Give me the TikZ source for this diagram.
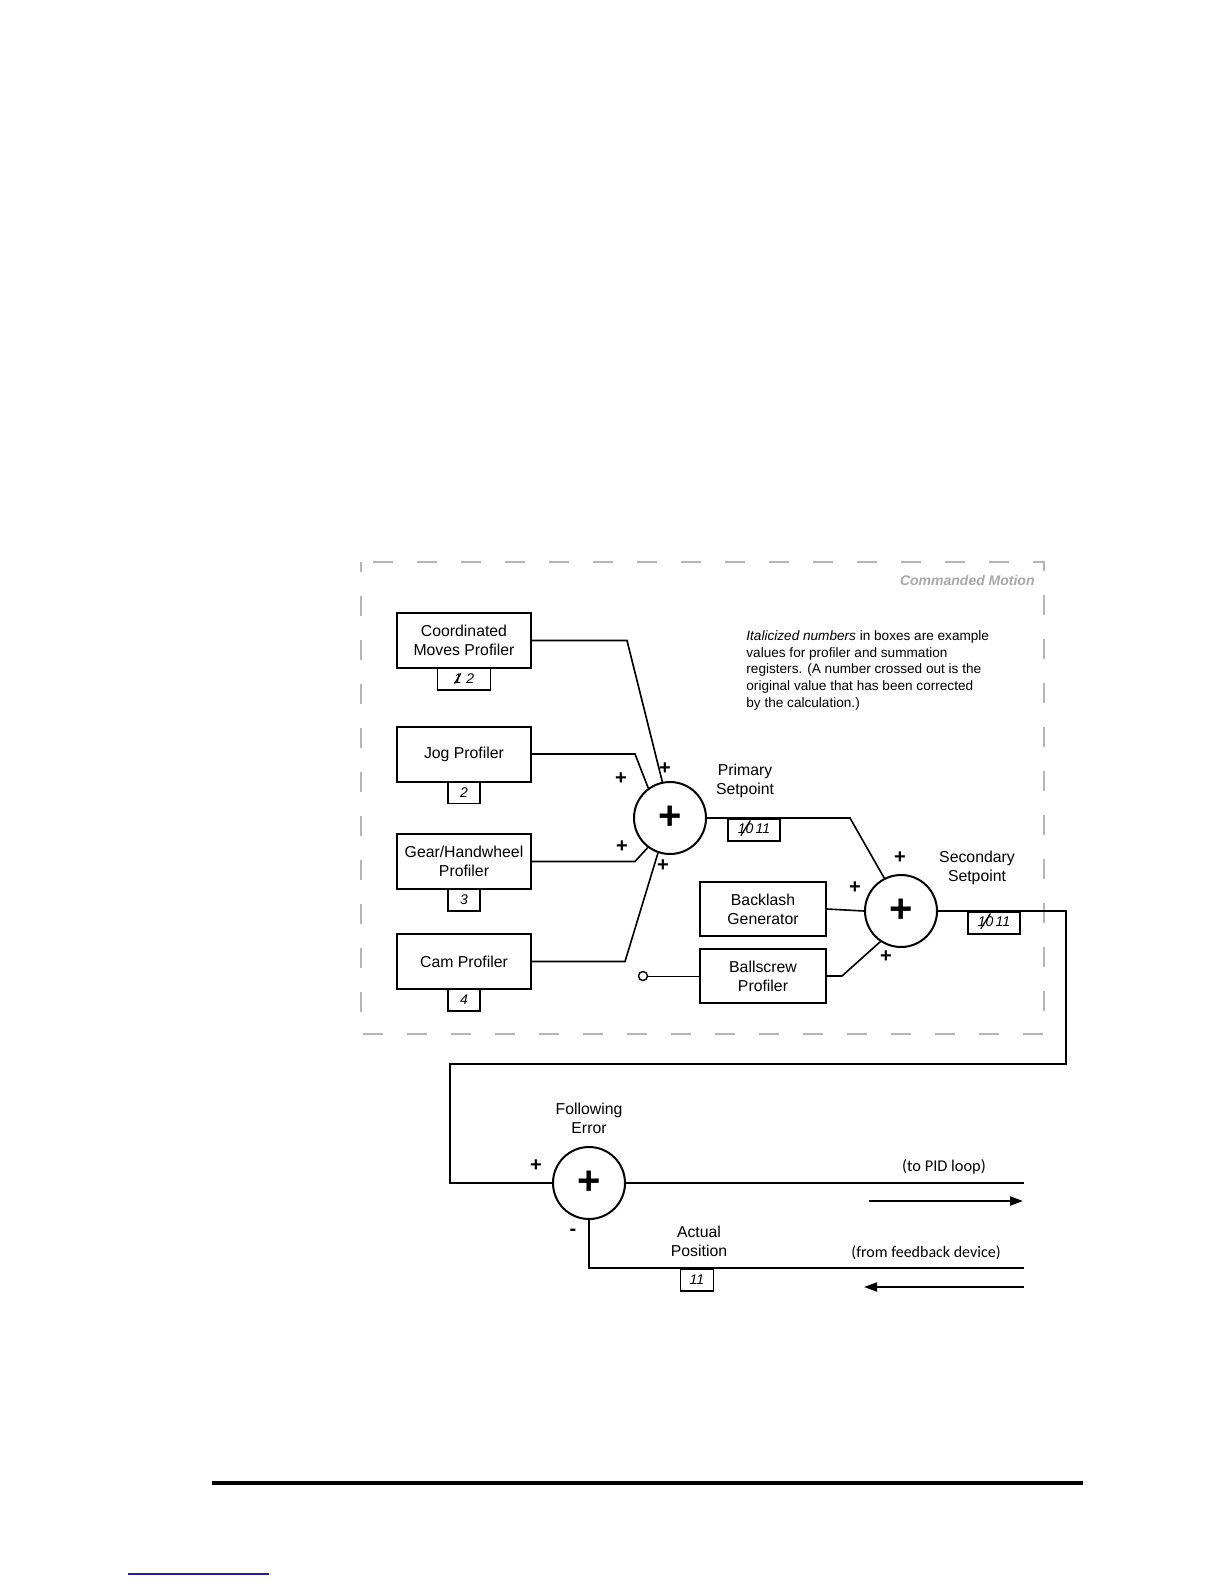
\documentclass[tikz,border=0pt]{standalone}
\usepackage{fontspec}
\setmainfont{Liberation Sans}
\newfontfamily\calfont{Carlito}
\usetikzlibrary{arrows.meta,positioning}
\definecolor{CMGray}{HTML}{B4B4B4}
\definecolor{CMText}{HTML}{A8A8A8}
\definecolor{CMLink}{HTML}{1F1FA0}
\newcommand{\crossed}[2]{\ooalign{#1\cr\hidewidth\raisebox{2.4pt}{\rotatebox[origin=c]{58}{\rule{#2}{0.6pt}}}\hidewidth}}

\begin{document}
\begin{tikzpicture}[x=0.5pt,y=-0.5pt,
  profiler/.style={draw,line width=1pt,minimum width=67pt,minimum height=27.5pt,align=center,
               font=\fontsize{7.9}{9.6}\selectfont,inner sep=1pt},
  regbox/.style={draw,line width=0.9pt,minimum width=16pt,minimum height=11pt,inner sep=1pt,
               font=\fontsize{7}{8}\selectfont\itshape},
  summer/.style={draw,circle,line width=1pt,minimum size=36pt,inner sep=0pt,
               font=\fontsize{20}{20}\selectfont\bfseries},
  sign/.style={inner sep=0pt,font=\fontsize{10}{10}\selectfont\bfseries},
  caption/.style={align=center,font=\fontsize{7.9}{9.6}\selectfont},
  wire/.style={line width=0.8pt},
  flow/.style={-{Triangle[length=6.5pt,width=4.5pt]},line width=1pt},
  port/.style={draw,circle,line width=0.7pt,minimum size=4.5pt,inner sep=0pt}
]
\useasboundingbox (0,0) rectangle (1224,1584);
% commanded motion frame
\draw[CMGray,line width=1.3pt,dash pattern=on 10pt off 12pt,dash phase=5pt] (361,562) rectangle (1044,1034);
\node[anchor=east,inner sep=0pt,text=CMText,font=\fontsize{7}{8}\selectfont\bfseries\itshape] (frametitle) at (1035,580) {Commanded Motion};
\node[anchor=north west,align=left,inner sep=0pt,font=\fontsize{6.8}{8.4}\selectfont] (note) at (746,630)
  {\textit{Italicized numbers} in boxes are example\\values for profiler and summation\\registers. (A number crossed out is the\\original value that has been corrected\\by the calculation.)};
% profilers
\node[profiler] (cmp) at (464,640.5) {Coordinated\\Moves Profiler};
\node[profiler] (jog) at (464,754) {Jog Profiler};
\node[profiler] (gear) at (464,861.5) {Gear/Handwheel\\Profiler};
\node[profiler] (cam) at (464,961.5) {Cam Profiler};
\node[regbox,minimum width=26.5pt,below=-1pt of cmp] (cmpreg) {\crossed{1}{6pt}\,\,2};
\node[regbox,below=-1pt of jog] (jogreg) {2};
\node[regbox,below=-1pt of gear] (gearreg) {3};
\node[regbox,below=-1pt of cam] (camreg) {4};
% primary summation
\node[summer] (c1) at (670,818) {+};
\foreach \src/\dx/\ang in {cmp/95/102,jog/103/126,gear/103/233,cam/93/251}{\draw[wire] (\src.east) -- ++(\dx,0) -- (c1.\ang);}
\foreach \p/\q in {665/769,621/779,622/847,663/866}{\node[sign] at (\p,\q) {+};}
\node[caption] (pslabel) at (745,781) {Primary\\Setpoint};
\node[regbox,minimum width=26pt,anchor=north] (psreg) at (754,818) {\crossed{10}{9pt}\,11};
% secondary summation
\node[profiler,minimum width=63pt,minimum height=27pt] (backlash) at (763,909) {Backlash\\Generator};
\node[profiler,minimum width=63pt,minimum height=27pt] (ballscrew) at (763,976) {Ballscrew\\Profiler};
\node[port] (bsin) at (643,976) {};
\node[summer] (c2) at (901,911) {+};
\draw[wire] (c1.east) -- ++(143,0) -- (c2.117);
\draw[wire] (backlash.east) -- (c2.west);
\draw[wire] (ballscrew.east) -- ++(15,0) -- (c2.236);
\draw[line width=0.5pt] (bsin) -- (ballscrew.west);
\foreach \p/\q in {900/858,855/888,886/957}{\node[sign] at (\p,\q) {+};}
\node[caption] (sslabel) at (977,868) {Secondary\\Setpoint};
\node[regbox,minimum width=26pt,anchor=north] (ssreg) at (994,911) {\crossed{10}{9pt}\,11};
% following error
\node[summer] (c3) at (589,1183) {+};
\coordinate (turnR) at (1066,1064);
\coordinate (turnL) at (450,1064);
\draw[wire] (c2.east) -| (turnR) -- (turnL) |- (c3.west);
\node[sign] at (536,1166) {+};
\node[sign] at (573,1232) {-};
\node[caption] (felabel) at (589,1118) {Following\\Error};
\coordinate (pidout) at (1024,1183);
\coordinate (fbin) at (1024,1268);
\draw[wire] (c3.east) -- (pidout);
\draw[wire] (c3.south) |- (fbin);
\node[caption] (aplabel) at (699,1241) {Actual\\Position};
\node[regbox,minimum width=16.5pt,anchor=north] (apreg) at (697,1268) {11};
\node[font=\calfont\fontsize{8.2}{10}\selectfont] (pidlabel) at (944,1167) {(to PID loop)};
\node[font=\calfont\fontsize{8}{10}\selectfont] (fblabel) at (926,1253) {(from feedback device)};
\coordinate (pidA) at (869,1201);
\coordinate (pidB) at (1023,1201);
\coordinate (fbA) at (1024,1287);
\coordinate (fbB) at (864,1287);
\draw[flow] (pidA) -- (pidB);
\draw[flow] (fbA) -- (fbB);
% page rule and link
\draw[line width=1.6pt] (212,1483) -- (1083,1483);
\draw[CMLink,line width=0.6pt] (128,1574) -- (269,1574);
\end{tikzpicture}
\end{document}
